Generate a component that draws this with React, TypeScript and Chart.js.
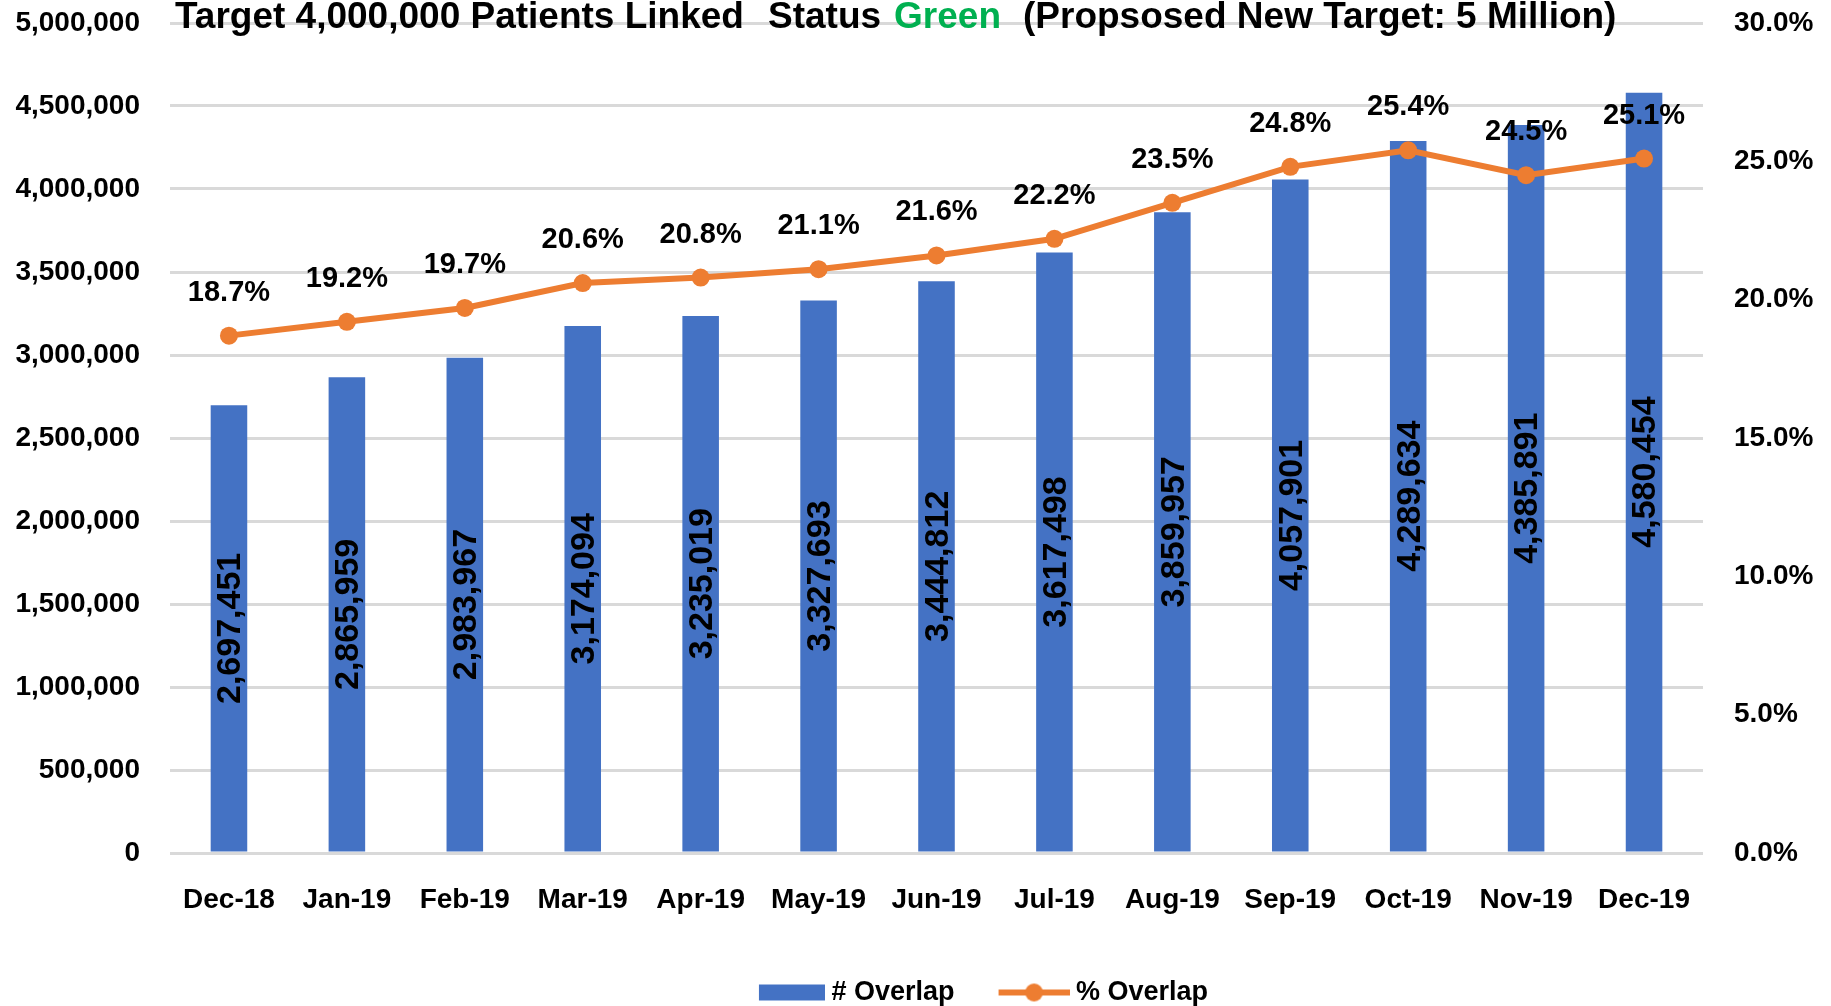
import React, { useEffect, useRef } from "react";
import { Chart, registerables } from "chart.js";

Chart.register(...registerables);

// ---------- data ----------
const categories = [
  "Dec-18", "Jan-19", "Feb-19", "Mar-19", "Apr-19", "May-19", "Jun-19",
  "Jul-19", "Aug-19", "Sep-19", "Oct-19", "Nov-19", "Dec-19",
];
const overlapCounts = [
  2697451, 2865959, 2983967, 3174094, 3235019, 3327693, 3444812,
  3617498, 3859957, 4057901, 4289634, 4385891, 4580454,
];
const overlapPercents = [
  18.7, 19.2, 19.7, 20.6, 20.8, 21.1, 21.6, 22.2, 23.5, 24.8, 25.4, 24.5, 25.1,
];
const countAxisMax = 5000000;
const countAxisStep = 500000;
const percentAxisMax = 30;
const percentAxisStep = 5;
const seriesNames = ["# Overlap", "% Overlap"];
const titleParts = [
  { text: "Target 4,000,000 Patients Linked", color: "#000000" },
  { text: "Status", color: "#000000" },
  { text: "Green", color: "#00B050" },
  { text: "(Propsosed New Target: 5 Million)", color: "#000000" },
];

// ---------- styles ----------
const FONT = "'Liberation Sans', Arial, sans-serif";
const BAR_COLOR = "#4472C4";
const LINE_COLOR = "#ED7D31";
const GRID_COLOR = "#D9D9D9";
const W = 1831;
const H = 1006;

const fmtCount = (v: number) => Math.round(v).toLocaleString("en-US");
const fmtPct = (v: number) => v.toFixed(1) + "%";

function makeBarIcon(): HTMLCanvasElement {
  const c = document.createElement("canvas");
  c.width = 84;
  c.height = 18;
  const g = c.getContext("2d")!;
  g.fillStyle = BAR_COLOR;
  g.fillRect(18, 1, 66, 16);
  return c;
}

function makeLineIcon(): HTMLCanvasElement {
  const c = document.createElement("canvas");
  c.width = 84;
  c.height = 20;
  const g = c.getContext("2d")!;
  g.strokeStyle = LINE_COLOR;
  g.lineWidth = 6;
  g.beginPath();
  g.moveTo(13, 10);
  g.lineTo(84, 10);
  g.stroke();
  g.fillStyle = LINE_COLOR;
  g.beginPath();
  g.arc(48.5, 10, 9, 0, Math.PI * 2);
  g.fill();
  return c;
}

const titlePlugin = {
  id: "customTitle",
  afterDraw(chart: any) {
    const ctx = chart.ctx;
    // start of first two segments, then gaps after each segment
    const firstX = 175;
    const statusX = 768;
    const gaps = [0, 13, 22];
    ctx.save();
    ctx.font = `bold 37px ${FONT}`;
    ctx.textAlign = "left";
    ctx.textBaseline = "alphabetic";
    let x = firstX;
    titleParts.forEach((p, i) => {
      if (i === 1) x = statusX;
      else if (i > 1) x += gaps[i - 1];
      ctx.fillStyle = p.color;
      ctx.fillText(p.text, x, 28);
      x += ctx.measureText(p.text).width;
    });
    ctx.restore();
  },
};

const valueLabelPlugin = {
  id: "valueLabels",
  afterDatasetsDraw(chart: any) {
    const ctx = chart.ctx;
    ctx.save();
    // bar labels (rotated, centered in bar)
    const barMeta = chart.getDatasetMeta(0);
    ctx.font = `bold 34px ${FONT}`;
    ctx.fillStyle = "#000000";
    ctx.textAlign = "center";
    ctx.textBaseline = "middle";
    barMeta.data.forEach((el: any, i: number) => {
      const { x, y, base } = el.getProps(["x", "y", "base"], true);
      ctx.save();
      ctx.translate(x + 2, (y + base) / 2);
      ctx.rotate(-Math.PI / 2);
      ctx.fillText(fmtCount(overlapCounts[i]), 0, 0);
      ctx.restore();
    });
    // percent labels above points
    const lineMeta = chart.getDatasetMeta(1);
    ctx.font = `bold 29px ${FONT}`;
    lineMeta.data.forEach((el: any, i: number) => {
      const { x, y } = el.getProps(["x", "y"], true);
      ctx.fillText(fmtPct(overlapPercents[i]), x, y - 43);
    });
    ctx.restore();
  },
};

const legendShiftPlugin = {
  id: "legendShift",
  afterLayout(chart: any) {
    const lg = chart.legend;
    if (lg) {
      lg.left += 125;
      lg.top += 10;
      lg.bottom += 10;
    }
  },
};

export default function App() {
  const canvasRef = useRef<HTMLCanvasElement | null>(null);

  useEffect(() => {
    document.body.style.margin = "0";
    const canvas = canvasRef.current;
    if (!canvas) return;
    Chart.defaults.font.family = FONT;
    const barIcon = makeBarIcon();
    const lineIcon = makeLineIcon();

    const tickFont = { size: 28, weight: "bold", family: FONT };

    const chart = new Chart(canvas, {
      type: "bar",
      data: {
        labels: categories,
        datasets: [
          {
            type: "bar",
            label: seriesNames[0],
            data: overlapCounts,
            backgroundColor: BAR_COLOR,
            borderWidth: 0,
            barPercentage: 0.31,
            categoryPercentage: 1,
            yAxisID: "y",
            order: 1,
          } as any,
          {
            type: "line",
            label: seriesNames[1],
            data: overlapPercents,
            borderColor: LINE_COLOR,
            backgroundColor: LINE_COLOR,
            borderWidth: 6,
            pointRadius: 9,
            pointBackgroundColor: LINE_COLOR,
            pointBorderColor: LINE_COLOR,
            pointBorderWidth: 0,
            tension: 0,
            fill: false,
            yAxisID: "y1",
            order: 0,
          } as any,
        ],
      },
      options: {
        responsive: false,
        devicePixelRatio: 1,
        animation: false,
        layout: { padding: { top: 23, left: 0, right: 0, bottom: 0 } },
        plugins: {
          title: { display: false },
          tooltip: { enabled: false },
          legend: {
            display: true,
            position: "bottom",
            labels: {
              usePointStyle: true,
              pointStyleWidth: 70,
              padding: 38,
              color: "#000000",
              font: { size: 27, weight: "bold", family: FONT },
              generateLabels: () => [
                {
                  text: seriesNames[0],
                  pointStyle: barIcon,
                  fillStyle: BAR_COLOR,
                  strokeStyle: BAR_COLOR,
                  lineWidth: 0,
                  hidden: false,
                  datasetIndex: 0,
                  fontColor: "#000000",
                } as any,
                {
                  text: seriesNames[1],
                  pointStyle: lineIcon,
                  fillStyle: LINE_COLOR,
                  strokeStyle: LINE_COLOR,
                  lineWidth: 0,
                  hidden: false,
                  datasetIndex: 1,
                  fontColor: "#000000",
                } as any,
              ],
            },
          },
        },
        scales: {
          x: {
            grid: { display: false, drawTicks: false },
            border: { display: false },
            ticks: {
              color: "#000000",
              font: tickFont,
              padding: 30,
              maxRotation: 0,
              autoSkip: false,
            },
            afterFit: (s: any) => {
              s.height = 78;
              s.paddingLeft = 0;
              s.paddingRight = 0;
            },
          },
          y: {
            position: "left",
            min: 0,
            max: countAxisMax,
            grid: { color: GRID_COLOR, lineWidth: 3, drawTicks: false },
            border: { display: false },
            ticks: {
              stepSize: countAxisStep,
              color: "#000000",
              font: tickFont,
              padding: 30,
              callback: (v: any) => fmtCount(Number(v)),
            },
            afterFit: (s: any) => {
              s.width = 170;
              s.paddingTop = 0;
              s.paddingBottom = 0;
            },
          },
          y1: {
            position: "right",
            min: 0,
            max: percentAxisMax,
            grid: { display: false, drawOnChartArea: false, drawTicks: false },
            border: { display: false },
            ticks: {
              stepSize: percentAxisStep,
              color: "#000000",
              font: tickFont,
              padding: 31,
              callback: (v: any) => fmtPct(Number(v)),
            },
            afterFit: (s: any) => {
              s.width = 128;
              s.paddingTop = 0;
              s.paddingBottom = 0;
            },
          },
        },
      } as any,
      plugins: [titlePlugin, valueLabelPlugin, legendShiftPlugin],
    });

    return () => {
      chart.destroy();
    };
  }, []);

  return (
    <div style={{ width: W, height: H, background: "#ffffff" }}>
      <canvas
        ref={canvasRef}
        width={W}
        height={H}
        style={{ width: W, height: H, display: "block" }}
      />
    </div>
  );
}
